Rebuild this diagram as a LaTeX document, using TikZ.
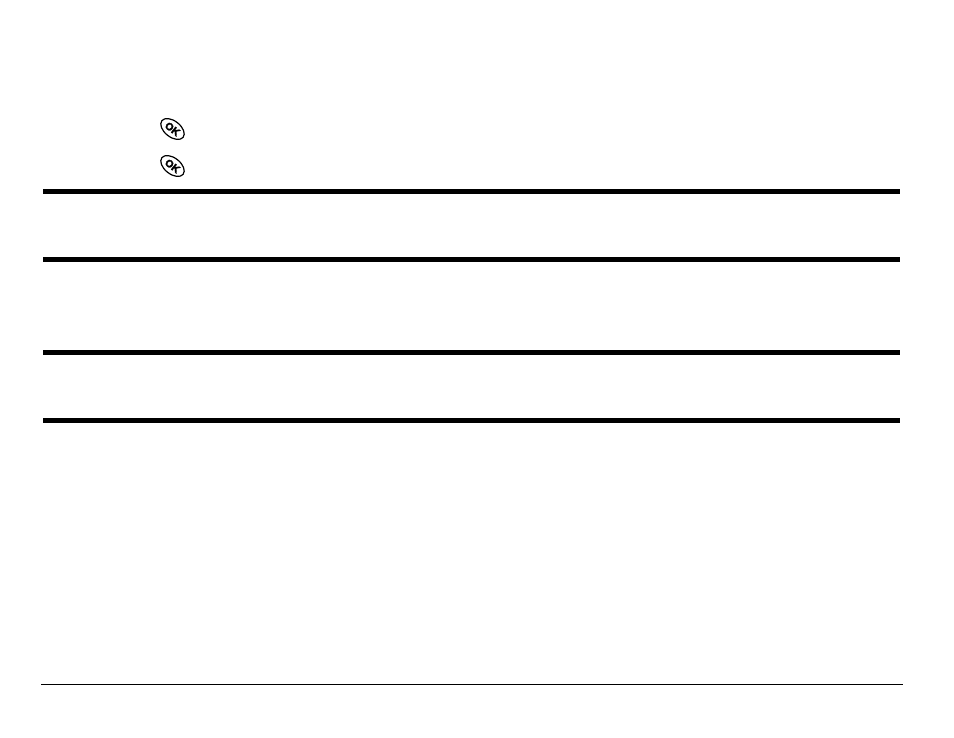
\documentclass[tikz,border=0pt]{standalone}
\usepackage{fontspec}
\newfontfamily\okfont[FakeBold=2.5]{Liberation Sans Bold}
\usetikzlibrary{shapes.geometric}
\tikzset{okkey/.style={draw,ellipse,line width=1.2pt,inner sep=0pt,minimum width=27pt,minimum height=16pt,rotate=-38,font=\okfont\fontsize{10.5}{10.5}\selectfont}}
\begin{document}
\begin{tikzpicture}[x=1pt,y=-1pt,line cap=butt]
	\useasboundingbox (0,0) rectangle (954,738);
	\node[okkey] (okone) at (172.5,129) {OK};
	\node[okkey] (oktwo) at (172.5,166) {OK};
	\draw[line width=5pt] (43,191.5)--(900,191.5) (43,259.5)--(900,259.5) (43,352.5)--(900,352.5) (43,420.5)--(900,420.5);
	\draw[line width=1pt] (41,684.5)--(903,684.5);
\end{tikzpicture}
\end{document}
